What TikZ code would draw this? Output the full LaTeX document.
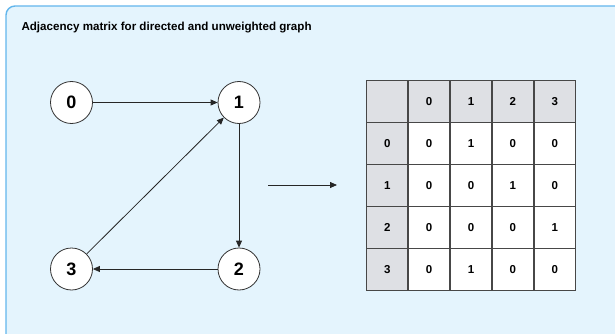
\documentclass[tikz,border=0pt]{standalone}
\usepackage{fontspec}
\setmainfont{Liberation Sans}
\usepackage{tikz}
\usetikzlibrary{arrows.meta,matrix}

\definecolor{panelbg}{HTML}{E4F4FD}
\definecolor{panelline}{HTML}{62B6EC}
\definecolor{hdrgray}{HTML}{DEE0E4}
\definecolor{gridline}{HTML}{474747}

\tikzset{
  vertex/.style={circle, draw=black!80, fill=white, line width=0.8pt,
    minimum size=42pt, inner sep=0pt, font=\fontsize{18}{18}\selectfont\bfseries},
  edge/.style={draw=black!85, line width=0.8pt,
    -{Triangle[length=7pt,width=6pt]}},
  cell/.style={draw=gridline, line width=1.4pt, fill=white, anchor=center,
    minimum size=41.9pt, inner sep=0pt, font=\fontsize{11.5}{11.5}\selectfont\bfseries},
  hdr/.style={cell, fill=hdrgray}
}

\begin{document}
\begin{tikzpicture}[x=1pt, y=-1pt]
  \useasboundingbox (0, 0) rectangle (615, 334);

  % Panel
  \draw [panelline, fill=panelbg, line width=1.4pt, rounded corners=9pt]
    (6, 6) rectangle (640, 360);
  \node [anchor=west, font=\fontsize{11.6}{11.6}\selectfont\bfseries]
    (title) at (18, 28) {Adjacency matrix for directed and unweighted graph};

  % Graph
  \node [vertex] (v0) at (71.5, 102.5) {0};
  \node [vertex] (v1) at (239, 102.5) {1};
  \node [vertex] (v2) at (239, 269) {2};
  \node [vertex] (v3) at (71.5, 269) {3};
  \draw [edge] (v0) -- (v1);
  \draw [edge] (v1) -- (v2);
  \draw [edge] (v2) -- (v3);
  \draw [edge] (v3) -- (v1);

  % Arrow to the matrix
  \coordinate (from) at (268, 185);
  \coordinate (to) at (337, 185);
  \draw [edge] (from) -- (to);

  % Matrix
  \matrix (adj) [matrix of nodes, nodes in empty cells, nodes={cell},
    row 1/.style={nodes={hdr}}, column 1/.style={nodes={hdr}},
    row sep=-1.4pt, column sep=-1.4pt] at (471, 185.5) {
      & 0 & 1 & 2 & 3 \\
    0 & 0 & 1 & 0 & 0 \\
    1 & 0 & 0 & 1 & 0 \\
    2 & 0 & 0 & 0 & 1 \\
    3 & 0 & 1 & 0 & 0 \\
  };
\end{tikzpicture}
\end{document}
